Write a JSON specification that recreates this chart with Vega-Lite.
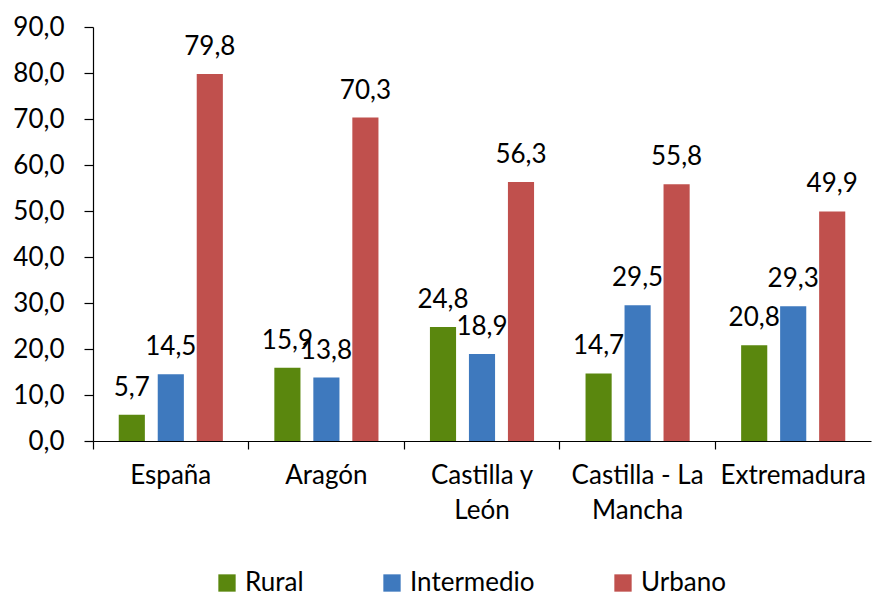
{
  "$schema": "https://vega.github.io/schema/vega-lite/v6.json",
  "autosize": "none",
  "width": 778,
  "height": 414,
  "padding": {"left": 93, "top": 27, "right": 2, "bottom": 152},
  "background": "white",
  "config": {
    "locale": {"number": {"decimal": ",", "thousands": ".", "grouping": [3], "currency": ["", " €"]}},
    "font": "Lato",
    "view": {"stroke": null},
    "axis": {"grid": false}
  },
  "data": {
    "values": [
      {"region": "España", "tipo": "Rural", "valor": 5.7},
      {"region": "España", "tipo": "Intermedio", "valor": 14.5},
      {"region": "España", "tipo": "Urbano", "valor": 79.8},
      {"region": "Aragón", "tipo": "Rural", "valor": 15.9},
      {"region": "Aragón", "tipo": "Intermedio", "valor": 13.8},
      {"region": "Aragón", "tipo": "Urbano", "valor": 70.3},
      {"region": "Castilla y León", "tipo": "Rural", "valor": 24.8},
      {"region": "Castilla y León", "tipo": "Intermedio", "valor": 18.9},
      {"region": "Castilla y León", "tipo": "Urbano", "valor": 56.3},
      {"region": "Castilla - La Mancha", "tipo": "Rural", "valor": 14.7},
      {"region": "Castilla - La Mancha", "tipo": "Intermedio", "valor": 29.5},
      {"region": "Castilla - La Mancha", "tipo": "Urbano", "valor": 55.8},
      {"region": "Extremadura", "tipo": "Rural", "valor": 20.8},
      {"region": "Extremadura", "tipo": "Intermedio", "valor": 29.3},
      {"region": "Extremadura", "tipo": "Urbano", "valor": 49.9}
    ]
  },
  "encoding": {
    "x": {
      "field": "region",
      "type": "nominal",
      "sort": null,
      "scale": {"paddingInner": 0, "paddingOuter": 0},
      "axis": {
        "title": null,
        "labelAngle": 0,
        "bandPosition": 0,
        "domainColor": "#000000",
        "domainWidth": 1.2,
        "tickColor": "#000000",
        "tickWidth": 1.2,
        "tickSize": 8,
        "labelFont": "Lato",
        "labelFontSize": 26,
        "labelColor": "#000000",
        "labelPadding": 13,
        "labelBaseline": "top",
        "labelLineHeight": 35,
        "labelExpr": "datum.value == 'Castilla y León' ? ['Castilla y', 'León'] : datum.value == 'Castilla - La Mancha' ? ['Castilla - La', 'Mancha'] : datum.value"
      }
    },
    "xOffset": {
      "field": "tipo",
      "type": "nominal",
      "sort": ["Rural", "Intermedio", "Urbano"],
      "scale": {"paddingInner": 0.33, "paddingOuter": 0.66}
    },
    "y": {
      "field": "valor",
      "type": "quantitative",
      "scale": {"domain": [0, 90], "nice": false},
      "axis": {
        "title": null,
        "values": [0, 10, 20, 30, 40, 50, 60, 70, 80, 90],
        "format": ".1f",
        "domainColor": "#000000",
        "domainWidth": 1.2,
        "tickColor": "#000000",
        "tickWidth": 1.2,
        "tickSize": 9,
        "labelFont": "Lato",
        "labelFontSize": 26,
        "labelColor": "#000000",
        "labelPadding": 20
      }
    }
  },
  "layer": [
    {
      "mark": {"type": "bar"},
      "encoding": {
        "color": {
          "field": "tipo",
          "type": "nominal",
          "scale": {"domain": ["Rural", "Intermedio", "Urbano"], "range": ["#5A870E", "#3E79BE", "#C0504D"]},
          "legend": {
            "title": null,
            "orient": "none",
            "legendX": 121,
            "legendY": 543,
            "direction": "horizontal",
            "symbolType": "square",
            "symbolSize": 300,
            "symbolStrokeWidth": 0,
            "labelFont": "Lato",
            "labelFontSize": 26,
            "labelColor": "#000000",
            "labelOffset": 5,
            "columnPadding": 75
          }
        }
      }
    },
    {
      "mark": {"type": "text", "baseline": "alphabetic", "dy": -19, "fontSize": 26, "font": "Lato", "color": "#000000"},
      "encoding": {
        "text": {"field": "valor", "type": "quantitative", "format": ".1f"}
      }
    }
  ]
}
